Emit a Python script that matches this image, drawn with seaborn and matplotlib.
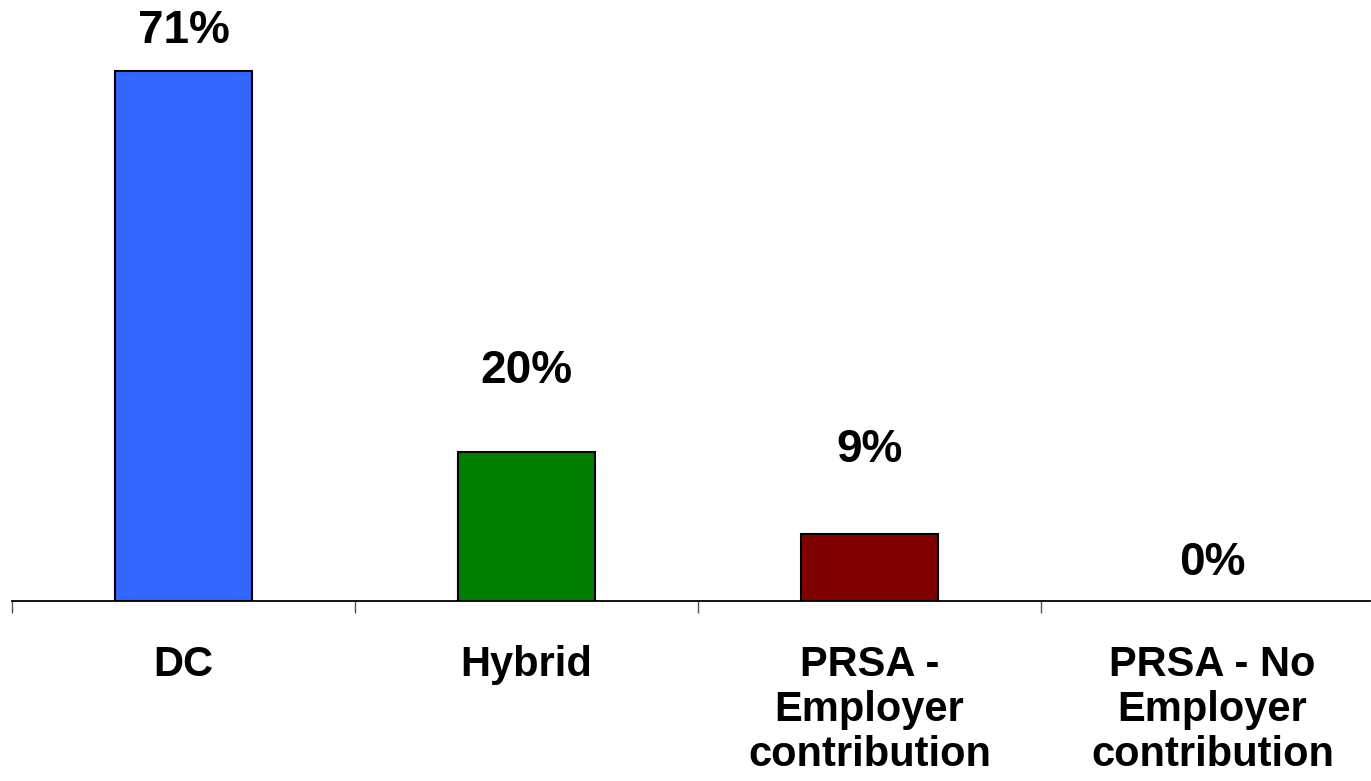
import matplotlib
matplotlib.use("Agg")
import matplotlib.pyplot as plt
import pandas as pd
import seaborn as sns

categories = ["DC", "Hybrid", "PRSA -\nEmployer\ncontribution", "PRSA - No\nEmployer\ncontribution"]
values = [71, 20, 9, 0]
value_labels = ["71%", "20%", "9%", "0%"]
bar_colors = ["#3366FF", "#008000", "#800000", "#808080"]
# label distance above bar top, in pixels (as in the reference)
label_offsets_px = [40, 81, 84, 38]


def main():
    sns.set_theme(style="white")
    plt.rcParams["font.family"] = ["Liberation Sans", "DejaVu Sans"]
    plt.rcParams["text.color"] = "black"
    plt.rcParams["xtick.color"] = "black"

    df = pd.DataFrame({"category": categories, "value": values})

    fig = plt.figure(figsize=(13.71, 7.81), dpi=100)
    ax = fig.add_axes([12 / 1371, 180 / 781, 1358 / 1371, 601 / 781])

    sns.barplot(
        data=df, x="category", y="value", hue="category",
        palette=bar_colors, saturation=1, width=0.4, edgecolor="black", linewidth=1.5,
        legend=False, ax=ax,
    )
    # empty bar: no outline
    for p in ax.patches:
        if p.get_height() == 0:
            p.set_visible(False)

    ax.set_ylim(0, 601 / 530 * 71)
    ax.set_xlim(-0.5, -0.5 + 1358 / 343)

    # tick marks between categories, labels centred under bars
    ax.set_xticks([-0.5, 0.5, 1.5, 2.5])
    ax.set_xticklabels([])
    ax.set_xticks(range(len(categories)), minor=True)
    ax.set_xticklabels(categories, minor=True, fontsize=30, fontweight="bold",
                       linespacing=1.15, color="black")
    ax.tick_params(axis="x", which="major", length=8.6, width=1, color="#555555",
                   direction="out", bottom=True)
    ax.tick_params(axis="x", which="minor", length=0, pad=32)
    ax.set_yticks([])
    ax.set_xlabel("")
    ax.set_ylabel("")

    for side in ["top", "right", "left"]:
        ax.spines[side].set_visible(False)
    ax.spines["bottom"].set_color("black")
    ax.spines["bottom"].set_linewidth(1.3)

    for i, (v, lab, off) in enumerate(zip(values, value_labels, label_offsets_px)):
        ax.annotate(lab, xy=(i, v), xytext=(0, off * 0.72), textcoords="offset points",
                    ha="center", va="center", fontsize=33, fontweight="bold",
                    color="black", annotation_clip=False)

    fig.savefig("out.png", dpi=100)
    plt.close(fig)


if __name__ == "__main__":
    main()
